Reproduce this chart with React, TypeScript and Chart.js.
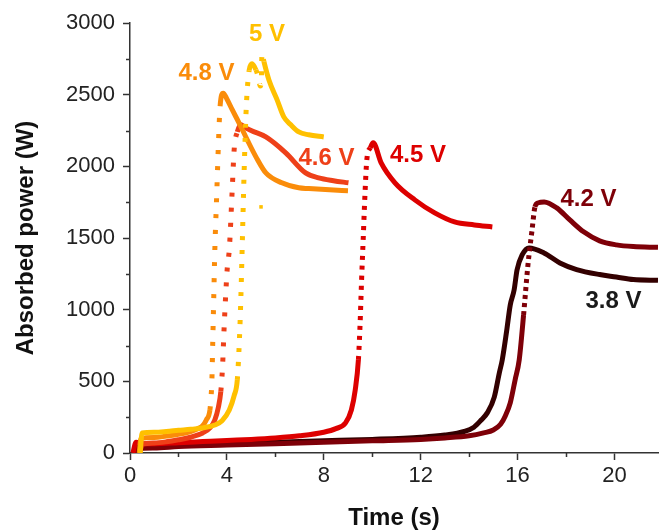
import React, { useEffect, useRef } from "react";
import { Chart, registerables } from "chart.js";

Chart.register(...registerables);

// ---- Axis ticks ----
const xMajor = [0, 4, 8, 12, 16, 20];
const xMinor = [2, 6, 10, 14, 18];
const yMajor = [0, 500, 1000, 1500, 2000, 2500, 3000];
const yMinor = [250, 750, 1250, 1750, 2250, 2750];

// ---- Series: 5 V ----
const t50 = [0.42, 0.5, 1.0, 1.5, 2.0, 2.5, 3.0, 3.5, 3.8, 4.1, 4.3, 4.43, 4.52, 4.58, 4.63, 4.71, 4.8, 4.92, 5.04, 5.2, 5.3, 5.38, 5.42, 5.45, 5.53, 5.74, 6.07, 6.35, 6.64, 6.97, 7.38, 8.0];
const p50 = [0, 140, 145, 150, 158, 165, 175, 195, 225, 300, 400, 510, 800, 1100, 1420, 1950, 2410, 2670, 2715, 2673, 2620, 2560, 2590, 2790, 2730, 2600, 2465, 2345, 2290, 2240, 2220, 2205];
const t50stray = [5.41];
const p50stray = [1717];

// ---- Series: 4.8 V ----
const t48 = [0.38, 0.45, 1.0, 1.5, 2.0, 2.5, 2.8, 3.0, 3.15, 3.3, 3.35, 3.38, 3.42, 3.46, 3.5, 3.58, 3.65, 3.72, 3.85, 4.0, 4.22, 4.51, 4.84, 5.2, 5.61, 6.27, 6.97, 7.38, 8.24, 9.0];
const p48 = [0, 100, 108, 118, 130, 150, 170, 190, 230, 300, 400, 500, 800, 1100, 1400, 1800, 2150, 2420, 2510, 2470, 2395, 2300, 2185, 2066, 1954, 1885, 1850, 1845, 1836, 1830];

// ---- Series: 4.6 V ----
const t46 = [0.4, 0.5, 1.0, 1.5, 2.0, 2.5, 3.0, 3.3, 3.5, 3.65, 3.75, 3.82, 3.88, 3.95, 4.02, 4.1, 4.22, 4.3, 4.43, 4.59, 4.71, 5.0, 5.61, 6.43, 7.25, 7.79, 8.4, 9.02];
const p46 = [0, 60, 70, 78, 92, 110, 140, 175, 230, 320, 430, 600, 850, 1100, 1300, 1420, 1836, 2115, 2240, 2290, 2276, 2250, 2205, 2094, 1954, 1920, 1900, 1885];

// ---- Series: 4.5 V ----
const t45 = [0.12, 0.25, 0.5, 1, 2, 3, 4, 5, 6, 7, 8, 8.5, 8.9, 9.14, 9.3, 9.43, 9.5, 9.56, 9.63, 9.7, 9.78, 9.92, 10.04, 10.37, 10.94, 11.76, 12.58, 13.4, 14.22, 14.96];
const p45 = [0, 75, 65, 65, 72, 80, 88, 95, 105, 120, 145, 170, 210, 300, 440, 650, 900, 1200, 1500, 1800, 2050, 2129, 2164, 2024, 1885, 1766, 1675, 1612, 1591, 1577];

// ---- Series: 4.2 V ----
const t42 = [0.2, 0.3, 1, 2, 4, 6, 8, 10, 12, 13, 14, 14.6, 15.0, 15.3, 15.5, 15.7, 15.9, 16.07, 16.25, 16.43, 16.6, 16.72, 16.85, 17.1, 17.62, 18.16, 18.73, 19.39, 20.08, 20.78, 21.8];
const p42 = [0, 30, 35, 45, 55, 65, 75, 85, 95, 105, 120, 140, 160, 200, 260, 350, 510, 650, 963, 1312, 1556, 1717, 1745, 1752, 1710, 1626, 1543, 1480, 1452, 1440, 1435];

// ---- Series: 3.8 V ----
const t38 = [0.2, 0.3, 1, 2, 4, 6, 8, 10, 12, 13, 13.8, 14.2, 14.5, 14.75, 15.04, 15.25, 15.37, 15.55, 15.7, 15.86, 15.98, 16.19, 16.48, 17.09, 17.75, 18.44, 19.39, 20.08, 20.78, 21.8];
const p38 = [0, 40, 45, 55, 65, 75, 85, 95, 110, 125, 150, 180, 230, 280, 390, 560, 650, 850, 1033, 1138, 1277, 1382, 1431, 1396, 1326, 1280, 1245, 1228, 1210, 1205];

// ---- Series meta ----
const seriesNames = ["5 V", "4.8 V", "4.6 V", "4.5 V", "4.2 V", "3.8 V"];
const seriesT = [t50, t48, t46, t45, t42, t38];
const seriesP = [p50, p48, p46, p45, p42, p38];
const seriesColors = ["#FFC000", "#FA8C0A", "#EE4019", "#DD0000", "#7E0008", "#330000"];
// time ranges drawn dotted (fast rise sampled sparsely) and the dot pattern of each series
const dottedRanges: number[][][] = [
  [[4.4, 4.92], [5.2, 5.53]],
  [[3.3, 3.8]],
  [[3.75, 4.45]],
  [[9.4, 10.0]],
  [[16.2, 16.75]],
  [],
];
const dotPatterns = [[4, 10], [4, 12], [4, 11], [4, 6], [4, 4], [4, 4]];

// ---- Annotations ----
const labelTexts = ["5 V", "4.8 V", "4.6 V", "4.5 V", "4.2 V", "3.8 V"];
const labelX = [5.66, 3.16, 8.11, 11.89, 18.93, 19.96];
const labelY = [2918, 2652, 2059, 2073, 1766, 1061];
const labelColors = ["#FFC000", "#FA8C0A", "#EE4019", "#DD0000", "#7E0008", "#1a1a1a"];

const FONT = "'Liberation Sans', Arial, sans-serif";
const AXIS = "#333";

export default function App() {
  const ref = useRef<HTMLCanvasElement | null>(null);

  useEffect(() => {
    if (!ref.current) return;

    const datasets: any[] = seriesNames.map((name, i) => ({
      label: name,
      data: seriesT[i].map((t, k) => ({ x: t, y: seriesP[i][k] })),
      borderColor: seriesColors[i],
      backgroundColor: seriesColors[i],
      borderWidth: 5,
      borderJoinStyle: "round",
      borderCapStyle: "butt",
      pointRadius: 0,
      showLine: true,
      cubicInterpolationMode: "monotone",
      segment: {
        borderDash: (ctx: any) => {
          const a = ctx.p0.parsed.x;
          const b = ctx.p1.parsed.x;
          for (const r of dottedRanges[i]) {
            if (a >= r[0] - 1e-6 && b <= r[1] + 1e-6) return dotPatterns[i];
          }
          return undefined;
        },
      },
    }));
    datasets.push({
      label: "5 V stray",
      data: t50stray.map((t, k) => ({ x: t, y: p50stray[k] })),
      showLine: false,
      pointStyle: "rect",
      pointRadius: 2.5,
      pointBackgroundColor: seriesColors[0],
      pointBorderWidth: 0,
    });

    const extras = {
      id: "extras",
      afterDraw(chart: any) {
        const { ctx, scales } = chart;
        const x = scales.x;
        const y = scales.y;
        ctx.save();
        ctx.strokeStyle = AXIS;
        ctx.lineWidth = 1.5;
        ctx.beginPath();
        for (const v of xMinor) {
          const px = Math.round(x.getPixelForValue(v)) + 0.5;
          ctx.moveTo(px, y.bottom);
          ctx.lineTo(px, y.bottom + 4);
        }
        for (const v of yMinor) {
          const py = Math.round(y.getPixelForValue(v)) + 0.5;
          ctx.moveTo(x.left, py);
          ctx.lineTo(x.left - 4, py);
        }
        ctx.stroke();
        ctx.font = `bold 24px ${FONT}`;
        ctx.textAlign = "center";
        ctx.textBaseline = "middle";
        labelTexts.forEach((txt, i) => {
          ctx.fillStyle = labelColors[i];
          ctx.fillText(txt, x.getPixelForValue(labelX[i]), y.getPixelForValue(labelY[i]));
        });
        ctx.restore();
      },
    };

    const chart = new Chart(ref.current, {
      type: "scatter",
      data: { datasets },
      options: {
        animation: false,
        responsive: false,
        events: [],
        layout: { padding: { top: 23, left: 0, right: 0, bottom: 0 } },
        plugins: { legend: { display: false }, tooltip: { enabled: false } },
        scales: {
          x: {
            type: "linear",
            min: 0,
            max: 21.8,
            afterFit: (s: any) => {
              s.height = 77;
            },
            afterBuildTicks: (s: any) => {
              s.ticks = xMajor.map((v) => ({ value: v }));
            },
            ticks: {
              font: { family: FONT, size: 22 },
              color: "#222",
              padding: 3,
              maxRotation: 0,
              autoSkip: false,
              includeBounds: false,
              callback: (v: any) => String(v),
            },
            grid: {
              drawOnChartArea: false,
              drawTicks: true,
              tickLength: 7,
              tickColor: AXIS,
              tickWidth: 1.5,
            },
            border: { display: true, color: AXIS, width: 1.5 },
            title: {
              display: true,
              text: "Time (s)",
              color: "#111",
              font: { family: FONT, size: 24, weight: "bold", lineHeight: 1 },
              padding: { top: 0, bottom: 0 },
            },
          },
          y: {
            type: "linear",
            min: 0,
            max: 3000,
            afterFit: (s: any) => {
              s.width = 130;
            },
            afterBuildTicks: (s: any) => {
              s.ticks = yMajor.map((v) => ({ value: v }));
            },
            ticks: {
              font: { family: FONT, size: 22 },
              color: "#222",
              padding: 8,
              autoSkip: false,
              callback: (v: any) => String(v),
            },
            grid: {
              drawOnChartArea: false,
              drawTicks: true,
              tickLength: 7,
              tickColor: AXIS,
              tickWidth: 1.5,
            },
            border: { display: true, color: AXIS, width: 1.5 },
            title: {
              display: true,
              text: "Absorbed power (W)",
              color: "#111",
              font: { family: FONT, size: 24, weight: "bold", lineHeight: 1 },
              padding: { top: 14, bottom: 0 },
            },
          },
        },
      } as any,
      plugins: [extras],
    });

    return () => chart.destroy();
  }, []);

  return (
    <div style={{ position: "fixed", left: 0, top: 0, width: 662, height: 530, background: "#fff" }}>
      <canvas ref={ref} width={662} height={530} style={{ display: "block" }} />
    </div>
  );
}
